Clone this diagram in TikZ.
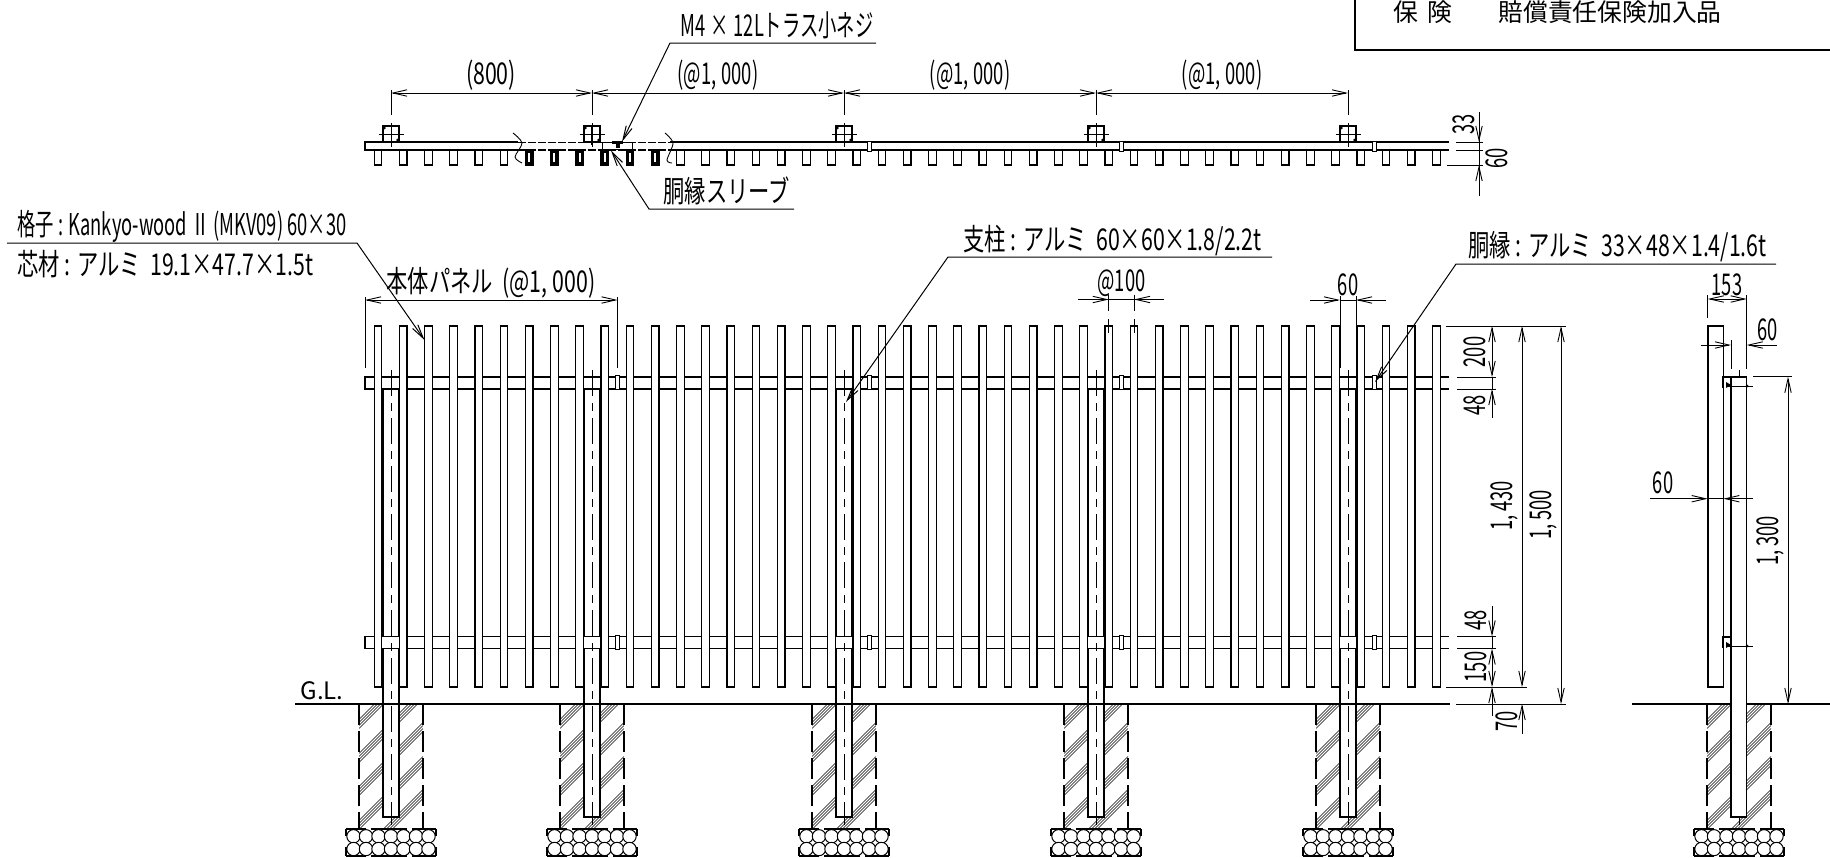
\documentclass[tikz,border=0pt]{standalone}
\usepackage{fontspec}
\usetikzlibrary{arrows.meta}
\newfontfamily\cadfont[FakeStretch=0.61]{Noto Sans CJK JP}
\newfontfamily\notefont[FakeStretch=0.71]{Noto Sans CJK JP}
\newfontfamily\titlefont{Noto Sans CJK JP}
\begin{document}
\begin{tikzpicture}[x=.5pt, y=-.5pt, >={Straight Barb[length=7pt,width=3.2pt]},
    dimline/.style={line width=.45pt},
    leadline/.style={line width=.5pt},
    chain/.style={line width=.3pt, dash pattern=on 13pt off 3.5pt on 4pt off 3.5pt},
    railline/.style={line width=.55pt},
    slatbody/.style={draw, fill=white, line width=.55pt},
    postbody/.style={draw, fill=white, line width=.6pt},
    capline/.style={line width=1pt},
    groundline/.style={line width=.95pt},
    footedge/.style={line width=1.25pt, dash pattern=on 10.5pt off 3pt},
    hatchline/.style={line width=.3pt},
    gravelring/.style={line width=.5pt},
    baseline/.style={line width=1.3pt},
    dimtext/.style={font=\cadfont\fontsize{15pt}{16pt}\selectfont, inner sep=0pt},
    notetext/.style={font=\notefont\fontsize{15pt}{16pt}\selectfont, inner sep=0pt},
    titletext/.style={font=\titlefont\fontsize{12.4pt}{13pt}\selectfont, inner sep=0pt, anchor=west}]
\useasboundingbox (0,0) rectangle (1830,857);

% title box
\draw[line width=.6pt] (1355,0) -- (1355,50) -- (1830,50);
\node[titletext] (titlekey) at (1393,12) {保\ \,険};
\node[titletext] (titleval) at (1498,12) {賠償責任保険加入品};

% footings
\foreach \px in {391,592,844,1096,1348,1739} {
    \begin{scope}
        \clip (\px-32,704) rectangle (\px+32,829);
        \foreach \by in {20,54,87,121,154}
            \foreach \off in {-4.5,-1.5,1.5,4.5}
                \draw[hatchline] (\px-32,704+\by+\off) -- ++(64,-64);
    \end{scope}
    \draw[footedge] (\px-32,704) -- (\px-32,829);
    \draw[footedge] (\px+32,704) -- (\px+32,829);
    \begin{scope}
        \clip (\px-45,829) rectangle (\px+45,856);
        \foreach \cx in {-37.5,-25,-12.5,0,12.5,25,37.5} {
            \draw[gravelring, fill=white] (\px+\cx,836.3) circle (6.7);
            \draw[gravelring, fill=white] (\px+\cx,849) circle (6.7);
        }
    \end{scope}
    \foreach \ea/\eb in {-45/-25,-20/16,21/45} {
        \draw[baseline] (\px+\ea,829) -- (\px+\eb,829);
        \draw[baseline] (\px+\ea,856) -- (\px+\eb,856);
    }
    \foreach \es in {-45,45} {
        \draw[baseline] (\px+\es,829) -- (\px+\es,836);
        \draw[baseline] (\px+\es,847) -- (\px+\es,856);
    }
}

% posts behind the rails
\foreach \px in {391,592,844,1096,1348} {
    \draw[postbody] (\px-8,388) rectangle (\px+8,817);
    \draw[capline] (\px-8,376.5) -- (\px+8,376.5);
}

% rails
\foreach \ry in {377,636.5} {
    \fill[white] (365,\ry) rectangle (1449,\ry+12);
    \draw[railline] (1449,\ry) -- (365,\ry) -- (365,\ry+12) -- (1449,\ry+12);
    \foreach \jx in {617.6,869.7,1121.7,1373.8}
        \draw[line width=.3pt, fill=white] (\jx-2,\ry-1.5) rectangle (\jx+2,\ry+12.5);
}

% slats, front and plan
\foreach \i in {0,...,42} {
    \pgfmathsetmacro{\sx}{378+25.2*\i}
    \draw[slatbody] (\sx-3.8,326) rectangle (\sx+3.8,687);
    \draw[capline] (\sx-3.8,326) -- (\sx+3.8,326);
    \draw[capline] (\sx-3.8,687) -- (\sx+3.8,687);
    \draw[slatbody] (\sx-3.8,150) rectangle (\sx+3.8,165);
}
\foreach \i in {6,...,11} {
    \pgfmathsetmacro{\sx}{378+25.2*\i}
    \fill (\sx-4.2,149.5) rectangle (\sx+4.2,166);
    \fill[white] (\sx-1,153) rectangle (\sx+1,162);
}

% center lines
\foreach \px in {391,592,844,1096,1348,1739}
    \draw[chain] (\px,370) -- (\px,825);

% ground
\draw[groundline] (295,704) -- (1450,704);
\draw[groundline] (1632,704) -- (1830,704);
\node[dimtext, font=\titlefont\fontsize{12pt}{13pt}\selectfont] (glmark) at (322,691) {G.L.};

% side view
\draw[postbody] (1708,326) rectangle (1723.3,687);
\draw[capline] (1708,326) -- (1723.3,326);
\draw[capline] (1708,687) -- (1723.3,687);
\draw[postbody] (1731,376.5) rectangle (1746.7,817);
\draw[capline] (1731,376.5) -- (1746.7,376.5);
\foreach \by in {377,637} {
    \draw[line width=1pt] (1731,\by) -- (1723,\by) -- (1723,\by+11);
    \fill (1726,\by+5) -- (1731,\by+8) -- (1726,\by+11) -- cycle;
    \draw[line width=.4pt] (1726,\by+9) -- (1753,\by+9);
    \fill (1747,\by+9) circle (1.5);
}

% plan view
\draw[railline] (518,142) -- (365,142) -- (365,150) -- (518,150);
\draw[railline] (670,142) -- (1449,142);
\draw[railline] (670,150) -- (1449,150);
\draw[line width=.5pt, dash pattern=on 4pt off 1pt] (518,142) -- (670,142);
\draw[line width=.9pt, dash pattern=on 4pt off 1pt] (518,150) -- (670,150);
\foreach \jx in {869.7,1121.7,1373.8}
    \draw[line width=.3pt, fill=white] (\jx-2,141) rectangle (\jx+2,151);
\draw[line width=.45pt] plot[smooth] coordinates {(513,133) (522,143) (515,157) (522,163)};
\draw[line width=.45pt] plot[smooth] coordinates {(665,133) (673,143) (667,160) (672,163)};
\draw[line width=.5pt, fill=white] (602.7,142.7) rectangle (632.7,149.3);
\fill (612,141) rectangle (623,143.5);
\fill (615.5,141) rectangle (619.5,148);
\foreach \px in {391,592,844,1096,1348} {
    \draw[line width=.6pt, fill=white] (\px-8,126) rectangle (\px+8,142);
    \draw[line width=.4pt] (\px-12.5,134) -- (\px+12.5,134);
    \draw[line width=.4pt] (\px,123) -- (\px,147);
    \fill (\px-6.5,128) circle (1.4);
    \fill (\px+6.5,140) circle (1.4);
}
\draw[line width=1pt] (592,125) -- (592,145);

% plan dimensions
\foreach \px in {391,592,844,1096,1348}
    \draw[dimline] (\px,90) -- (\px,115);
\draw[dimline, <->] (391,93) -- (592,93);
\draw[dimline, <->] (592,93) -- (844,93);
\draw[dimline, <->] (844,93) -- (1096,93);
\draw[dimline, <->] (1096,93) -- (1348,93);
\node[notetext] (dimA) at (491,75) {(800)};
\node[dimtext] (dimB) at (718,75) {(@1,\,000)};
\node[dimtext] (dimC) at (970,75) {(@1,\,000)};
\node[dimtext] (dimD) at (1222,75) {(@1,\,000)};
\draw[dimline] (1456,142) -- (1483,142);
\draw[dimline] (1456,150) -- (1483,150);
\draw[dimline] (1447,165) -- (1483,165);
\draw[dimline] (1479,112) -- (1479,196);
\draw[dimline, ->] (1479,125) -- (1479,142);
\draw[dimline, ->] (1479,181) -- (1479,165);
\node[dimtext, rotate=90] (planA) at (1464,124) {33};
\node[dimtext, rotate=90] (planB) at (1497,158) {60};

% front dimensions, top
\draw[dimline] (365,297) -- (365,368);
\draw[dimline] (617.6,297) -- (617.6,368);
\draw[dimline, <->] (365,300) -- (617.6,300);
\node[notetext] (panelA) at (491,283) {本体パネル\ \ (@1,\,000)};
\draw[dimline, dash pattern=on 8pt off 4pt] (1108.8,295) -- (1108.8,333);
\draw[dimline, dash pattern=on 8pt off 4pt] (1134,295) -- (1134,333);
\draw[dimline, ->] (1078,299.5) -- (1108.8,299.5);
\draw[dimline, ->] (1164,299.5) -- (1134,299.5);
\draw[dimline] (1108.8,299.5) -- (1134,299.5);
\node[dimtext] (pitchA) at (1121.5,283) {@100};
\draw[dimline] (1340,296) -- (1340,368);
\draw[dimline] (1356,296) -- (1356,368);
\draw[dimline, ->] (1310,300) -- (1340,300);
\draw[dimline, ->] (1386,300) -- (1356,300);
\draw[dimline] (1340,300) -- (1356,300);
\node[dimtext] (postA) at (1348,285) {60};

% front dimensions, right
\draw[dimline] (1446,326) -- (1566,326);
\foreach \ry in {377,389,636.5,648.5}
    \draw[dimline] (1457,\ry) -- (1496,\ry);
\draw[dimline] (1446,687) -- (1527,687);
\draw[dimline] (1456,704) -- (1566,704);
\draw[dimline, <->] (1492,326) -- (1492,377);
\draw[dimline, <-] (1492,389) -- (1492,418);
\draw[dimline] (1492,377) -- (1492,389);
\draw[dimline, ->] (1492,606) -- (1492,636.5);
\draw[dimline] (1492,636.5) -- (1492,648.5);
\draw[dimline, <->] (1492,648.5) -- (1492,687);
\draw[dimline, <-] (1492,687) -- (1492,716);
\draw[dimline, <->] (1522,326) -- (1522,687);
\draw[dimline, <-] (1522,704) -- (1522,734);
\draw[dimline, <->] (1561,326) -- (1561,704);
\node[dimtext, rotate=90] (hgtA) at (1475,352) {200};
\node[dimtext, rotate=90] (hgtB) at (1475,405) {48};
\node[dimtext, rotate=90] (hgtC) at (1476,620) {48};
\node[dimtext, rotate=90] (hgtD) at (1476,667) {150};
\node[dimtext, rotate=90] (hgtE) at (1507,721) {70};
\node[dimtext, rotate=90] (hgtF) at (1504,506) {1,\ 430};
\node[dimtext, rotate=90] (hgtG) at (1543,515) {1,\ 500};

% side dimensions
\draw[dimline] (1707.7,295) -- (1707.7,318);
\draw[dimline] (1746.7,295) -- (1746.7,369);
\draw[dimline] (1731,340) -- (1731,369);
\draw[dimline, <->] (1707.7,299) -- (1746.7,299);
\node[dimtext] (sideA) at (1727,285) {153};
\draw[dimline, ->] (1700.7,345) -- (1731,345);
\draw[dimline, ->] (1776.7,345) -- (1746.7,345);
\node[dimtext] (sideB) at (1767.7,330) {60};
\draw[dimline, ->] (1650,498.7) -- (1707.7,498.7);
\draw[dimline, ->] (1753,498.7) -- (1723.3,498.7);
\draw[dimline] (1707.7,498.7) -- (1723.3,498.7);
\node[dimtext] (sideC) at (1663,483) {60};
\draw[dimline] (1753,376.7) -- (1792,376.7);
\draw[dimline, <->] (1788,376.7) -- (1788,704);
\node[dimtext, rotate=90] (sideD) at (1770,541) {1,\ 300};

% leaders
\draw[leadline, ->] (876,43) -- (670,43) -- (622,141.7);
\node[dimtext, anchor=west] (noteScrew) at (680,25) {M4\,×\,12Lトラス小ネジ};
\draw[leadline, ->] (794,209) -- (649,209) -- (611,150.5);
\node[notetext, anchor=west] (noteSleeve) at (663,191) {胴縁スリーブ};
\draw[leadline, ->] (7,243) -- (357,243) -- (424.5,340);
\node[dimtext, anchor=west] (noteSlatA) at (17,226) {格子 : Kankyo-wood Ⅱ (MKV09) 60×30};
\node[notetext, anchor=west] (noteSlatB) at (17,264) {芯材 : アルミ\ \ 19.1×47.7×1.5t};
\draw[leadline, ->] (1272,257) -- (948,257) -- (846,402);
\node[notetext, anchor=west] (notePost) at (963,241) {支柱 : アルミ\ \ 60×60×1.8/2.2t};
\draw[leadline, ->] (1776,264) -- (1456,264) -- (1375,382);
\node[notetext, anchor=west] (noteRail) at (1468,247) {胴縁 : アルミ\ \ 33×48×1.4/1.6t};
\end{tikzpicture}
\end{document}
